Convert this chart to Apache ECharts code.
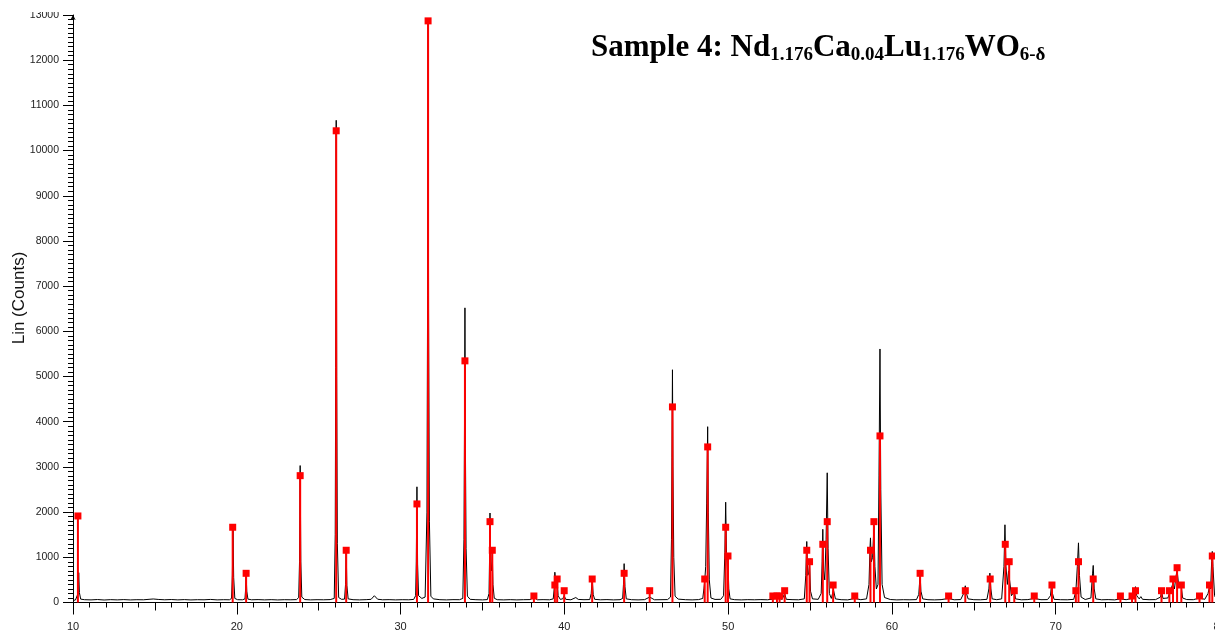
<!DOCTYPE html>
<html>
<head>
<meta charset="utf-8">
<script src="https://cdn.jsdelivr.net/npm/echarts@6/dist/echarts.min.js"></script>
<style>
  html, body { margin: 0; padding: 0; overflow: hidden; background: #fff; }
  #chart { position: absolute; left: 0; top: 0; width: 1226px; height: 632px; }
</style>
</head>
<body>
<div id="chart"></div>
<script>
// Measured diffraction trace: [2-theta (deg), counts]
const trace = [
  [10.00, 45], [10.15, 55], [10.25, 58], [10.31, 200], [10.35, 660], [10.39, 220], [10.47, 75],
  [10.70, 62], [11.10, 58], [11.50, 66], [11.90, 55], [12.30, 63], [12.70, 58], [13.10, 64],
  [13.50, 57], [13.90, 62], [14.30, 60], [14.70, 72], [14.90, 78], [15.20, 68], [15.60, 60],
  [16.00, 66], [16.40, 58], [16.80, 64], [17.20, 57], [17.60, 62], [18.00, 60], [18.40, 68],
  [18.80, 58], [19.20, 62], [19.55, 60], [19.68, 90], [19.73, 600], [19.77, 1600], [19.81, 550],
  [19.88, 90], [20.05, 62], [20.35, 60], [20.50, 80], [20.54, 300], [20.57, 620], [20.61, 250],
  [20.68, 75], [20.90, 60], [21.30, 64], [21.70, 58], [22.10, 63], [22.50, 57], [22.90, 62],
  [23.30, 60], [23.65, 64], [23.78, 110], [23.83, 900], [23.87, 3030], [23.91, 900], [23.97, 120],
  [24.15, 65], [24.50, 58], [24.90, 62], [25.30, 60], [25.70, 64], [25.95, 90], [26.01, 1500],
  [26.04, 5200], [26.07, 10670], [26.10, 5000], [26.14, 1300], [26.22, 110], [26.40, 70],
  [26.58, 75], [26.64, 400], [26.68, 1150], [26.72, 380], [26.80, 80], [27.10, 62], [27.50, 58],
  [27.90, 63], [28.20, 70], [28.40, 150], [28.60, 72], [28.90, 60], [29.30, 63], [29.70, 58],
  [30.10, 62], [30.50, 60], [30.80, 68], [30.92, 150], [30.96, 900], [31.00, 2560], [31.04, 850],
  [31.10, 150], [31.30, 90], [31.50, 120], [31.61, 2000], [31.65, 6800], [31.68, 12800],
  [31.71, 6500], [31.76, 1800], [31.85, 140], [32.00, 80], [32.40, 62], [32.80, 58], [33.20, 63],
  [33.60, 62], [33.80, 90], [33.87, 1400], [33.90, 3600], [33.93, 6520], [33.96, 3400],
  [34.00, 1200], [34.08, 140], [34.25, 70], [34.60, 62], [35.00, 58], [35.30, 64], [35.40, 200],
  [35.43, 900], [35.46, 1980], [35.50, 900], [35.56, 700], [35.60, 1100], [35.64, 400],
  [35.72, 95], [35.90, 62], [36.30, 58], [36.70, 63], [37.10, 58], [37.50, 62], [37.90, 64],
  [38.14, 110], [38.35, 60], [38.70, 63], [39.10, 60], [39.32, 80], [39.38, 300], [39.42, 670],
  [39.48, 400], [39.56, 480], [39.62, 150], [39.75, 70], [39.90, 80], [39.99, 150], [40.08, 70],
  [40.40, 60], [40.70, 110], [40.85, 68], [41.20, 62], [41.55, 65], [41.64, 200], [41.70, 520],
  [41.76, 180], [41.85, 70], [42.20, 60], [42.60, 64], [43.00, 58], [43.40, 62], [43.56, 90],
  [43.61, 400], [43.65, 860], [43.70, 350], [43.78, 80], [44.10, 62], [44.50, 58], [44.90, 63],
  [45.21, 120], [45.50, 60], [45.90, 62], [46.30, 64], [46.48, 120], [46.54, 1400], [46.57, 3200],
  [46.60, 5150], [46.63, 3000], [46.68, 1000], [46.76, 140], [46.95, 75], [47.40, 62], [47.80, 58],
  [48.20, 64], [48.45, 90], [48.52, 300], [48.57, 480], [48.63, 800], [48.69, 2200], [48.75, 3890],
  [48.79, 2000], [48.85, 500], [48.95, 100], [49.20, 68], [49.55, 70], [49.72, 150], [49.80, 1100],
  [49.85, 2220], [49.90, 1100], [49.96, 700], [49.99, 900], [50.04, 300], [50.12, 80], [50.40, 62],
  [50.80, 58], [51.20, 63], [51.60, 60], [52.00, 64], [52.40, 60], [52.73, 75], [52.98, 100],
  [53.14, 90], [53.30, 70], [53.45, 200], [53.55, 70], [53.90, 63], [54.30, 60], [54.65, 80],
  [54.74, 600], [54.80, 1350], [54.86, 600], [54.92, 650], [54.97, 850], [55.03, 250], [55.15, 80],
  [55.50, 70], [55.68, 200], [55.74, 900], [55.78, 1620], [55.83, 700], [55.90, 500], [55.98, 1400],
  [56.05, 2870], [56.10, 1200], [56.18, 200], [56.30, 90], [56.43, 280], [56.55, 80], [56.90, 62],
  [57.30, 58], [57.73, 90], [58.10, 62], [58.45, 80], [58.60, 400], [58.66, 1200], [58.69, 1430],
  [58.74, 900], [58.82, 1000], [58.90, 1690], [58.96, 800], [59.05, 300], [59.15, 400],
  [59.21, 2800], [59.27, 5610], [59.32, 2500], [59.40, 400], [59.55, 110], [59.90, 66], [60.30, 58],
  [60.70, 62], [61.10, 60], [61.50, 64], [61.64, 180], [61.68, 400], [61.72, 640], [61.77, 250],
  [61.88, 80], [62.20, 62], [62.60, 58], [63.00, 63], [63.46, 90], [63.80, 60], [64.20, 65],
  [64.38, 200], [64.48, 370], [64.55, 200], [64.65, 80], [65.00, 62], [65.40, 60], [65.80, 70],
  [65.92, 300], [65.98, 650], [66.04, 300], [66.12, 80], [66.40, 62], [66.70, 80], [66.84, 800],
  [66.90, 1720], [66.96, 800], [67.05, 400], [67.12, 700], [67.18, 500], [67.30, 150], [67.47, 250],
  [67.55, 80], [67.90, 60], [68.30, 64], [68.69, 90], [69.10, 62], [69.50, 64], [69.68, 150],
  [69.74, 380], [69.80, 200], [69.90, 70], [70.30, 62], [70.70, 60], [71.10, 70], [71.23, 250],
  [71.32, 800], [71.39, 1320], [71.45, 600], [71.55, 120], [71.80, 66], [72.15, 100], [72.25, 650],
  [72.29, 820], [72.35, 300], [72.45, 80], [72.80, 60], [73.20, 64], [73.60, 58], [73.95, 80],
  [74.30, 62], [74.66, 90], [74.80, 200], [74.87, 350], [74.95, 150], [75.10, 80], [75.20, 130],
  [75.30, 70], [75.70, 62], [76.10, 64], [76.40, 120], [76.46, 240], [76.55, 90], [76.85, 100],
  [76.94, 200], [77.05, 180], [77.16, 420], [77.25, 300], [77.33, 550], [77.41, 720], [77.50, 400],
  [77.67, 330], [77.75, 100], [78.00, 65], [78.40, 62], [78.78, 100], [79.10, 70], [79.30, 200],
  [79.39, 350], [79.46, 300], [79.52, 900], [79.56, 1130], [79.60, 800], [79.70, 150], [79.80, 80]
];

// Reference pattern lines
const refAngle = [
  10.30, 19.75, 20.57, 23.87, 26.07, 26.68, 31.00, 31.68, 33.93, 35.46, 35.60, 38.14,
  39.42, 39.56, 39.99, 41.70, 43.65, 45.21, 46.60, 48.57, 48.75, 49.85, 49.99, 52.73,
  52.98, 53.14, 53.45, 54.80, 54.97, 55.78, 56.05, 56.41, 57.73, 58.69, 58.90, 59.27,
  61.72, 63.46, 64.48, 66.00, 66.92, 67.16, 67.47, 68.69, 69.77, 71.23, 71.39, 72.29,
  73.95, 74.66, 74.87, 76.46, 76.94, 77.16, 77.41, 77.67, 78.78, 79.39, 79.56
];
const refIntensity = [
  1915, 1665, 646, 2807, 10438, 1156, 2181, 12870, 5347, 1789, 1156, 144,
  387, 520, 261, 520, 646, 261, 4328, 520, 3443, 1665, 1029, 144,
  144, 144, 261, 1156, 903, 1288, 1789, 387, 144, 1156, 1789, 3686,
  646, 144, 261, 520, 1288, 903, 261, 144, 387, 261, 903, 520,
  144, 144, 261, 261, 261, 520, 770, 387, 144, 387, 1029
];

const xTicks = { min: 10, max: 80, major: 10, mid: 5 };
const yTicks = { min: 0, max: 13000, major: 1000 };
const yTitle = 'Lin (Counts)';

const refLines = refAngle.map((a, i) => [a, refIntensity[i]]);

const chart = echarts.init(document.getElementById('chart'), null, { renderer: 'canvas' });

const axisFont = { fontFamily: 'Liberation Sans, Arial, sans-serif', color: '#222' };

chart.setOption({
  animation: false,
  backgroundColor: '#fff',
  title: {
    left: 591,
    top: 31,
    padding: 0,
    text: '{m|Sample 4: Nd}{s|1.176}{m|Ca}{s|0.04}{m|Lu}{s|1.176}{m|WO}{s|6-δ}',
    textStyle: {
      rich: {
        m: { fontFamily: 'Liberation Serif, Times New Roman, serif', fontWeight: 'bold', fontSize: 31, color: '#000', lineHeight: 34 },
        s: { fontFamily: 'Liberation Serif, Times New Roman, serif', fontWeight: 'bold', fontSize: 19, color: '#000', lineHeight: 20, verticalAlign: 'bottom' }
      }
    }
  },
  grid: { left: 73, right: 6.5, top: 15, bottom: 29.5, containLabel: false, outerBoundsMode: 'none' },
  xAxis: [
    {
      type: 'value', min: xTicks.min, max: xTicks.max, interval: xTicks.major,
      axisLine: { show: true, lineStyle: { color: '#000', width: 1 } },
      axisTick: { show: true, length: 12, lineStyle: { color: '#000' } },
      minorTick: { show: true, splitNumber: 10, length: 5, lineStyle: { color: '#000' } },
      splitLine: { show: false },
      axisLabel: Object.assign({ fontSize: 11, margin: 19, showMaxLabel: true }, axisFont)
    },
    {
      type: 'value', min: xTicks.min, max: xTicks.max, interval: xTicks.mid, position: 'bottom',
      axisLine: { show: false },
      axisTick: { show: true, length: 8, lineStyle: { color: '#000' } },
      splitLine: { show: false },
      axisLabel: { show: false }
    }
  ],
  yAxis: {
    type: 'value', min: yTicks.min, max: yTicks.max, interval: yTicks.major,
    axisLine: { show: true, symbol: ['none', 'arrow'], symbolSize: [4, 5], lineStyle: { color: '#000', width: 1 } },
    axisTick: { show: true, length: 10, lineStyle: { color: '#000' } },
    minorTick: { show: true, splitNumber: 10, length: 5, lineStyle: { color: '#000' } },
    splitLine: { show: false },
    axisLabel: Object.assign({ fontSize: 10.5, margin: 14, formatter: v => String(v) }, axisFont)
  },
  graphic: [
    { type: 'rect', left: 0, top: 0, shape: { width: 68, height: 12 }, style: { fill: '#fff' }, z: 100 },
    {
      type: 'text', x: 19, y: 298, rotation: Math.PI / 2, z: 50,
      style: { text: yTitle, fontFamily: 'Liberation Sans, Arial, sans-serif', fontSize: 17, fill: '#111', align: 'center', verticalAlign: 'middle' }
    }
  ],
  series: [
    {
      name: 'Measured', type: 'line', data: trace, xAxisIndex: 0, showSymbol: false,
      lineStyle: { color: '#000', width: 1 }, clip: true, z: 2
    },
    {
      name: 'Reference', type: 'custom', data: refLines, xAxisIndex: 0, z: 3,
      renderItem: function (params, api) {
        const x = api.value(0), h = api.value(1);
        const p0 = api.coord([x, 0]);
        const p1 = api.coord([x, h]);
        return {
          type: 'group',
          children: [
            { type: 'line', shape: { x1: p0[0], y1: p0[1], x2: p1[0], y2: p1[1] }, style: { stroke: '#ff0000', lineWidth: 2 } },
            { type: 'rect', shape: { x: p1[0] - 3.5, y: p1[1] - 3.5, width: 7, height: 7 }, style: { fill: '#ff0000' } }
          ]
        };
      }
    }
  ]
});
</script>
</body>
</html>
